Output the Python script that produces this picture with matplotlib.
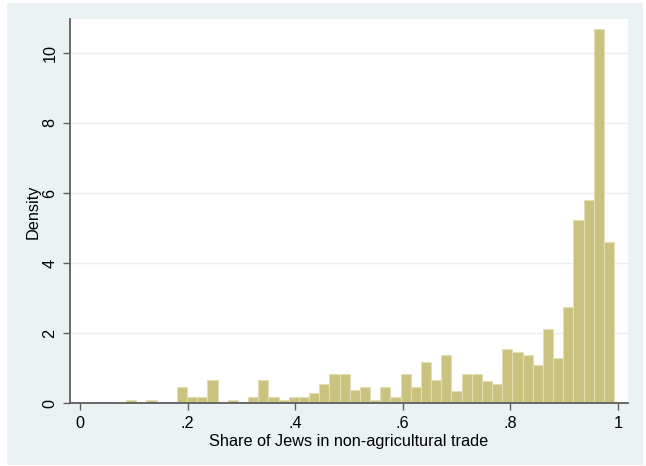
import matplotlib
matplotlib.use("Agg")
import matplotlib.pyplot as plt
from matplotlib.patches import Rectangle
import numpy as np

plt.rcParams['font.family'] = ['Liberation Sans', 'DejaVu Sans']

# Histogram data (density per bin)
bin_start = 0.0855
bin_width = 0.018898
densities = [0.10, 0.00, 0.10, 0.00, 0.00, 0.46, 0.19, 0.19, 0.66, 0.00,
             0.10, 0.00, 0.19, 0.66, 0.19, 0.10, 0.19, 0.19, 0.28, 0.56,
             0.83, 0.83, 0.38, 0.46, 0.10, 0.46, 0.19, 0.83, 0.46, 1.19,
             0.66, 1.38, 0.36, 0.83, 0.83, 0.64, 0.55, 1.56, 1.47, 1.38,
             1.10, 2.11, 1.29, 2.76, 5.24, 5.79, 10.67, 4.61]
x_ticks = [0, 0.2, 0.4, 0.6, 0.8, 1.0]
x_tick_labels = ['0', '.2', '.4', '.6', '.8', '1']
y_ticks = [0, 2, 4, 6, 8, 10]
y_tick_labels = ['0', '2', '4', '6', '8', '10']
x_label = 'Share of Jews in non-agricultural trade'
y_label = 'Density'

W, H = 646, 466
fig = plt.figure(figsize=(W / 100, H / 100), dpi=100)
fig.patch.set_facecolor('white')
bg = '#EAF2F3'
fig.patches.append(Rectangle((7 / W, 1 - 465 / H), (643 - 7) / W, (465 - 3) / H,
                             transform=fig.transFigure, facecolor=bg,
                             edgecolor='none', zorder=-10))

ax = fig.add_axes([70 / W, 1 - 403.3 / H, (628 - 70) / W, (403.3 - 19.5) / H])
ax.set_zorder(1)
ax.set_facecolor('white')

edges = bin_start + bin_width * np.arange(len(densities))
ax.bar(edges, densities, width=bin_width, align='edge',
       color='#CAC27F', edgecolor='#E3DEB6', linewidth=0.8, zorder=3)

ax.set_xlim(-0.0186, 1.0186)
ax.set_ylim(0, 10.95)

for yv in y_ticks[1:]:
    ax.axhline(yv, color='#E6EEF0', linewidth=1.0, zorder=1)

axcol = '#5E5E5E'
for s in ['top', 'right']:
    ax.spines[s].set_visible(False)
for s in ['left', 'bottom']:
    ax.spines[s].set_color(axcol)
    ax.spines[s].set_linewidth(1.3)
    ax.spines[s].set_zorder(5)

ax.set_xticks(x_ticks)
ax.set_xticklabels(x_tick_labels)
ax.set_yticks(y_ticks)
ax.set_yticklabels(y_tick_labels, rotation=90, va='center')
ax.tick_params(axis='both', direction='out', length=5, width=1.0, color=axcol,
               labelsize=11.7, labelcolor='black', pad=4)

ax.set_xlabel(x_label, fontsize=11.7, labelpad=2)
ax.set_ylabel(y_label, fontsize=11.7, labelpad=1)

fig.savefig('out.png', dpi=100, facecolor='white')
